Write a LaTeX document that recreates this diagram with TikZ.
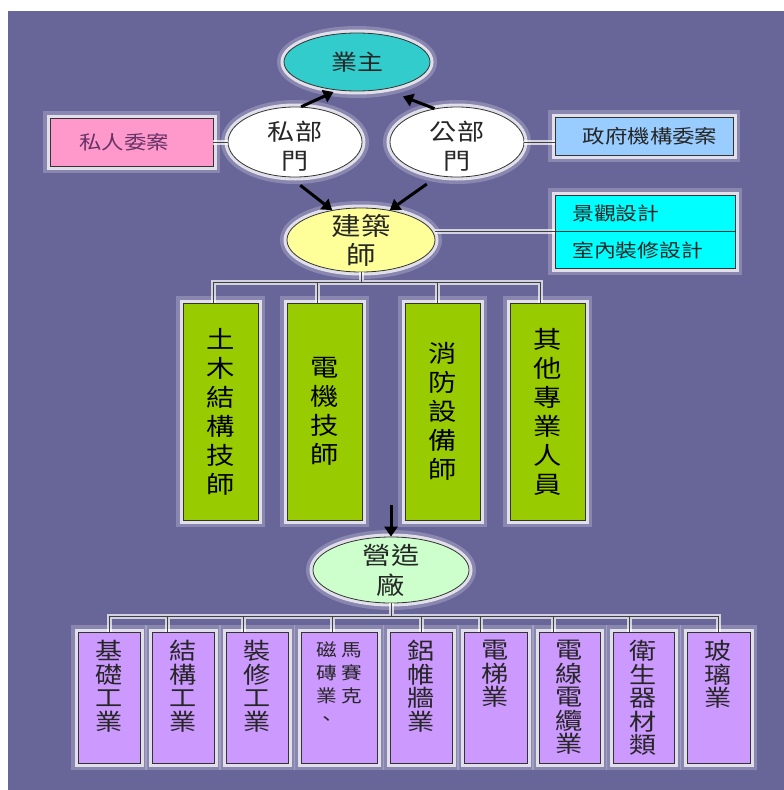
\documentclass[tikz,border=0pt]{standalone}
\usepackage{fontspec}
\setmainfont{Noto Sans CJK TC}[FakeStretch=1.18]
\usetikzlibrary{shapes.geometric,arrows.meta,calc}
\definecolor{bgpurple}{RGB}{104,101,153}
\definecolor{cOwner}{RGB}{51,204,204}
\definecolor{cPink}{RGB}{255,153,204}
\definecolor{cPinkText}{RGB}{102,51,102}
\definecolor{cBlue}{RGB}{153,204,255}
\definecolor{cCyan}{RGB}{0,255,255}
\definecolor{cYellow}{RGB}{255,255,153}
\definecolor{cGreen}{RGB}{153,204,0}
\definecolor{cLightGreen}{RGB}{204,255,204}
\definecolor{cPurple}{RGB}{204,153,255}
\newcommand\myfs[2]{\fontsize{#1pt}{#2pt}\selectfont}
\tikzset{
  glow/.style={preaction={draw=white,line width=14pt,opacity=0.22},
               preaction={draw=white,line width=7pt,opacity=0.75}},
  shapebase/.style={glow, draw=black!80, line width=0.8pt, inner sep=0pt},
  oval/.style={shapebase, ellipse},
  box/.style={shapebase, rectangle},
  lbl/.style={align=center, inner sep=0pt, text=black!85},
  conn/.style={preaction={draw=white,line width=5pt,opacity=0.7}, draw=black!75, line width=0.9pt},
  arr/.style={draw=black, line width=3pt, -{Triangle[length=10pt,width=13pt]}},
}
\begin{document}
\begin{tikzpicture}[x=1pt,y=-1pt]
\useasboundingbox (0,0) rectangle (784,790);
\fill[white] (0,0) rectangle (784,790);
\fill[bgpurple] (8,11) rectangle (784,790);

% ---- top level
\node[oval, fill=cOwner, minimum width=146pt, minimum height=58pt] (owner) at (357,62) {};
\node[lbl, font=\myfs{22}{26}] (ownerT) at (owner.center) {業主};
\node[oval, fill=white, minimum width=134pt, minimum height=70pt] (priv) at (295,142) {};
\node[lbl, font=\myfs{23}{29}] (privT) at (295,146) {私部\\門};
\node[oval, fill=white, minimum width=134pt, minimum height=70pt] (pub) at (457,142) {};
\node[lbl, font=\myfs{23}{29}] (pubT) at (457,146) {公部\\門};
\node[box, fill=cPink, minimum width=163pt, minimum height=48pt] (pink) at (131.5,142) {};
\node[lbl, font=\myfs{19}{24}, text=cPinkText] (pinkT) at (124,142) {私人委案};
\node[box, fill=cBlue, minimum width=178pt, minimum height=38pt] (blue) at (644,136) {};
\node[lbl, font=\myfs{19}{24}] (blueT) at (650,136) {政府機構委案};

% ---- architect
\node[oval, fill=cYellow, minimum width=148pt, minimum height=64pt] (arch) at (361,240) {};
\node[lbl, font=\myfs{25}{29}] (archT) at (361,240) {建築\\師};
\node[box, fill=cCyan, minimum width=180pt, minimum height=73pt] (cyan) at (645,231.5) {};
\draw[black!80, line width=0.8pt] (cyan.west) -- (cyan.east);
\node[lbl, anchor=west, font=\myfs{18.5}{24}] (cyanA) at (572,213.5) {景觀設計};
\node[lbl, anchor=west, font=\myfs{18.5}{24}] (cyanB) at (572,250) {室內裝修設計};

% ---- engineers
\node[box, fill=cGreen, minimum width=75pt, minimum height=217pt, font=\myfs{24}{29}, align=center] (g1) at (220.5,411.5) {土\\木\\結\\構\\技\\師};
\node[box, fill=cGreen, minimum width=75pt, minimum height=217pt, font=\myfs{24}{29}, align=center] (g2) at (324.5,411.5) {電\\機\\技\\師};
\node[box, fill=cGreen, minimum width=75pt, minimum height=217pt, font=\myfs{24}{29}, align=center] (g3) at (442.5,411.5) {消\\防\\設\\備\\師};
\node[box, fill=cGreen, minimum width=75pt, minimum height=217pt, font=\myfs{24}{29}, align=center] (g4) at (547.5,411.5) {其\\他\\專\\業\\人\\員};

% ---- contractor
\node[oval, fill=cLightGreen, minimum width=156pt, minimum height=66pt] (cons) at (391,570) {};
\node[lbl, font=\myfs{24}{30}] (consT) at (391,570) {營造\\廠};

% ---- trades
\node[box, fill=cPurple, minimum width=62pt, minimum height=131pt] (p1) at (109,697.5) {};
\node[box, fill=cPurple, minimum width=62pt, minimum height=131pt] (p2) at (183,697.5) {};
\node[box, fill=cPurple, minimum width=62pt, minimum height=131pt] (p3) at (257,697.5) {};
\node[box, fill=cPurple, minimum width=76pt, minimum height=131pt] (p4) at (339,697.5) {};
\node[box, fill=cPurple, minimum width=62pt, minimum height=131pt] (p5) at (421,697.5) {};
\node[box, fill=cPurple, minimum width=63pt, minimum height=131pt] (p6) at (495.5,697.5) {};
\node[box, fill=cPurple, minimum width=61pt, minimum height=131pt] (p7) at (569.5,697.5) {};
\node[box, fill=cPurple, minimum width=61pt, minimum height=131pt] (p8) at (643.5,697.5) {};
\node[box, fill=cPurple, minimum width=63pt, minimum height=131pt] (p9) at (718.5,697.5) {};
\node[lbl, anchor=north, font=\myfs{23}{23.5}] (p1T) at (109,640) {基\\礎\\工\\業};
\node[lbl, anchor=north, font=\myfs{23}{23.5}] (p2T) at (183,640) {結\\構\\工\\業};
\node[lbl, anchor=north, font=\myfs{23}{23.5}] (p3T) at (257,640) {裝\\修\\工\\業};
\node[lbl, anchor=north, font=\myfs{17.5}{23}] (p4Ta) at (327,642) {磁\\磚\\業\\、};
\node[lbl, anchor=north, font=\myfs{17.5}{23}] (p4Tb) at (352,642) {馬\\賽\\克};
\node[lbl, anchor=north, font=\myfs{23}{23.5}] (p5T) at (421,640) {鋁\\帷\\牆\\業};
\node[lbl, anchor=north, font=\myfs{23}{23.5}] (p6T) at (495.5,640) {電\\梯\\業};
\node[lbl, anchor=north, font=\myfs{23}{23.5}] (p7T) at (569.5,640) {電\\線\\電\\纜\\業};
\node[lbl, anchor=north, font=\myfs{23}{23.5}] (p8T) at (643.5,640) {衛\\生\\器\\材\\類};
\node[lbl, anchor=north, font=\myfs{23}{23.5}] (p9T) at (718.5,640) {玻\\璃\\業};

% ---- connectors
\draw[conn] (pink.east) -- (priv.west);
\draw[conn] (pub.east) -- (pub.east -| blue.west);
\draw[conn] (cyan.west) -- (cyan.west -| arch.east);

\coordinate (gbus) at (361,283);
\draw[conn] (arch.south) -- (gbus)
  ($(g1.north)+(-7,0)$) -- ++(0,-20) -- ($(g4.north)+(-7,-20)$) -- ++(0,20)
  ($(g2.north)+(-7,0)$) -- ++(0,-20)
  ($(g3.north)+(-5,0)$) -- ++(0,-20);

\draw[conn] (cons.south) -- ++(0,14)
  (p1.north) -- ++(0,-15) -- ($(p9.north)+(0,-15)$) -- ++(0,15)
  ($(p2.north)+(-16,0)$) -- ++(0,-15)
  ($(p3.north)+(-14,0)$) -- ++(0,-15)
  ($(p4.north)+(-7,0)$) -- ++(0,-15)
  (p5.north) -- ++(0,-15)
  ($(p6.north)+(-15.5,0)$) -- ++(0,-15)
  ($(p7.north)+(-16.5,0)$) -- ++(0,-15)
  ($(p8.north)+(-14.5,0)$) -- ++(0,-15);

% ---- arrows
\draw[arr, shorten >=4pt] (priv.80) -- (owner.235);
\draw[arr, shorten >=20pt] (pub.124) -- (owner.315);
\draw[arr, shorten <=13pt] (priv.262) -- (arch.134);
\draw[arr, shorten <=14pt] (pub.241) -- (arch.46);
\coordinate (tail) at (391,505);
\draw[arr] (tail) -- (cons.north);
\end{tikzpicture}
\end{document}
